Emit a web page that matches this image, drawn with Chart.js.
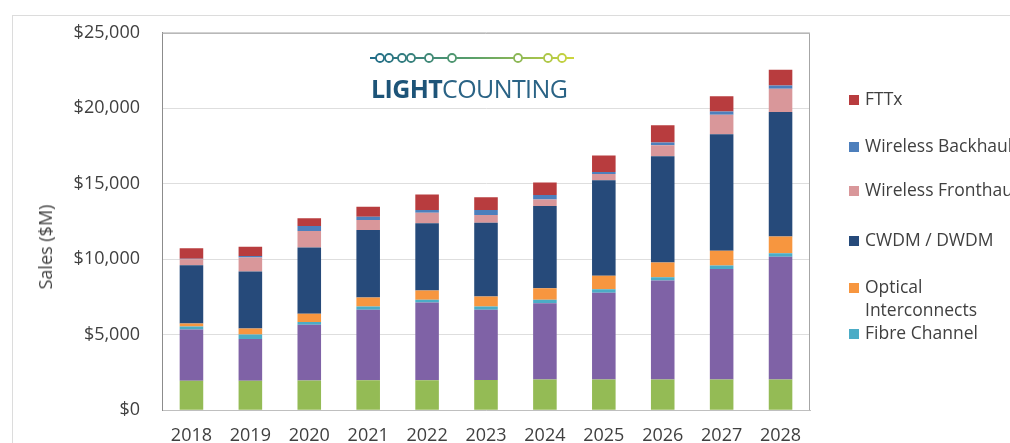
<!DOCTYPE html>
<html>
<head>
<meta charset="utf-8">
<script src="https://cdn.jsdelivr.net/npm/chart.js@4"></script>
<style>
  html, body { margin: 0; padding: 0; background: #fff; }
  #wrap { position: relative; width: 1010px; height: 443px; overflow: hidden; font-family: "Open Sans", sans-serif; }
  #frame { position: absolute; left: 12px; top: 15px; width: 1100px; height: 500px; border: 1px solid #dcdcdc; }
  #salesChart { position: absolute; left: 0; top: 0; }
  #yTitle { position: absolute; left: 45px; top: 247px; transform: translate(-50%, -50%) rotate(-90deg);
            font-size: 18px; color: #404040; white-space: nowrap; }
  #legend { position: absolute; left: 849px; top: 0; width: 200px; font-size: 17.5px; color: #404040; }
  .lg { position: absolute; left: 0; white-space: nowrap; line-height: 23px; }
  .lg i { display: inline-block; width: 10px; height: 10px; margin-right: 6px; vertical-align: 0px; }
  .lg span.indent { padding-left: 16px; }
  #logo { position: absolute; left: 368px; top: 49px; width: 210px; }
  #logoText { font-size: 25px; letter-spacing: -0.6px; color: #2a6385; line-height: 28px; margin-top: 2px; padding-left: 3px; }
  #logoText b { font-weight: 700; color: #1d5478; }
</style>
</head>
<body>
<div id="wrap">
  <div id="frame"></div>
  <canvas id="salesChart" width="1010" height="443"></canvas>
  <div id="yTitle">Sales ($M)</div>
  <div id="logo">
    <svg width="210" height="18" viewBox="0 0 210 18">
      <defs>
        <linearGradient id="lgGrad" gradientUnits="userSpaceOnUse" x1="0" y1="9" x2="210" y2="9">
          <stop offset="0" stop-color="#1e6a8a"/>
          <stop offset="0.5" stop-color="#5aa06a"/>
          <stop offset="1" stop-color="#d2d83a"/>
        </linearGradient>
      </defs>
      <line x1="2" y1="9" x2="206" y2="9" stroke="url(#lgGrad)" stroke-width="1.8"/>
      <g fill="#fff" stroke="url(#lgGrad)" stroke-width="1.8">
        <circle cx="12" cy="9" r="4"/><circle cx="21" cy="9" r="4"/>
        <circle cx="34" cy="9" r="4"/><circle cx="43" cy="9" r="4"/>
        <circle cx="61" cy="9" r="4"/><circle cx="84" cy="9" r="4"/>
        <circle cx="150" cy="9" r="4"/><circle cx="180" cy="9" r="4"/>
        <circle cx="194" cy="9" r="4"/>
      </g>
    </svg>
    <div id="logoText"><b>LIGHT</b>COUNTING</div>
  </div>
  <div id="legend"></div>
</div>
<script>
// Optical transceiver sales by segment, $M
const years = ["2018", "2019", "2020", "2021", "2022", "2023", "2024", "2025", "2026", "2027", "2028"];

// bottom two segments: their legend entries are cut off in the source
const otherSales     = [1950, 1950, 1960, 1980, 1980, 2000, 2030, 2030, 2030, 2030, 2030];
const ethernetSales  = [3400, 2770, 3700, 4670, 5150, 4650, 5060, 5750, 6560, 7330, 8140];

const fibreChannel         = [200, 290, 180, 220, 180, 220, 220, 230, 220, 220, 230];
const opticalInterconnects = [200, 400, 550, 590, 620, 660, 770, 900, 970, 990, 1100];
const cwdmDwdm             = [3850, 3770, 4380, 4480, 4450, 4890, 5440, 6320, 7040, 7710, 8250];
const wirelessFronthaul    = [400, 930, 1100, 660, 700, 510, 440, 420, 730, 1290, 1540];
const wirelessBackhaul     = [30, 110, 330, 210, 180, 330, 290, 130, 180, 220, 220];
const fttx                 = [700, 610, 510, 660, 1030, 850, 830, 1100, 1140, 1010, 1050];

const yTicks = [0, 5000, 10000, 15000, 20000, 25000];

// ── Series (bottom to top) ───────────────────────────────
const series = [
  { label: "Other",                 data: otherSales,           color: "#94bb55", legend: false },
  { label: "Ethernet",              data: ethernetSales,        color: "#7f62a6", legend: false },
  { label: "Fibre Channel",         data: fibreChannel,         color: "#4bacc6", legend: true },
  { label: "Optical Interconnects", data: opticalInterconnects, color: "#f7963f", legend: true },
  { label: "CWDM / DWDM",           data: cwdmDwdm,             color: "#264a7a", legend: true },
  { label: "Wireless Fronthaul",    data: wirelessFronthaul,    color: "#d9979a", legend: true },
  { label: "Wireless Backhaul",     data: wirelessBackhaul,     color: "#4d7fbc", legend: true },
  { label: "FTTx",                  data: fttx,                 color: "#b83c3e", legend: true }
];

// ── HTML legend (right side, cropped like the source) ────
const legendEl = document.getElementById("legend");
const legendTops = { "FTTx": 87, "Wireless Backhaul": 134, "Wireless Fronthaul": 178,
                     "CWDM / DWDM": 228, "Optical Interconnects": 275, "Fibre Channel": 321 };
series.filter(s => s.legend).forEach(s => {
  const row = document.createElement("div");
  row.className = "lg";
  row.style.top = legendTops[s.label] + "px";
  if (s.label === "Optical Interconnects") {
    row.innerHTML = '<i style="background:' + s.color + '"></i>Optical<br><span class="indent">Interconnects</span>';
  } else {
    row.innerHTML = '<i style="background:' + s.color + '"></i>' + s.label;
  }
  legendEl.appendChild(row);
});

// outline of the plot box (top and right edges)
const plotBox = {
  id: "plotBox",
  afterDraw(chart) {
    const { ctx, chartArea: a } = chart;
    ctx.save();
    ctx.strokeStyle = "#a6a6a6";
    ctx.lineWidth = 1;
    ctx.beginPath();
    ctx.moveTo(a.left, a.top + 0.5);
    ctx.lineTo(a.right - 0.5, a.top + 0.5);
    ctx.lineTo(a.right - 0.5, a.bottom);
    ctx.stroke();
    ctx.restore();
  }
};

const tickFont = { family: "'Open Sans', sans-serif", size: 18 };

new Chart(document.getElementById("salesChart").getContext("2d"), {
  type: "bar",
  data: {
    labels: years,
    datasets: series.map(s => ({
      label:           s.label,
      data:            s.data,
      backgroundColor: s.color,
      borderWidth:     0,
      categoryPercentage: 1.0,
      barPercentage:   0.4
    }))
  },
  options: {
    responsive: false,
    animation:  false,
    layout: { padding: { top: 30, right: 200, left: 0, bottom: 0 } },
    plugins: {
      legend:  { display: false },
      tooltip: { enabled: false }
    },
    scales: {
      x: {
        stacked: true,
        grid:   { display: false, drawTicks: false },
        border: { color: "#bfbfbf" },
        ticks:  { color: "#404040", font: tickFont, padding: 15, maxRotation: 0 },
        afterFit(scale) { scale.height = 32; }
      },
      y: {
        stacked: true,
        min: 0,
        max: 25000,
        afterBuildTicks(scale) { scale.ticks = yTicks.map(v => ({ value: v })); },
        grid:   { color: "#dedede", drawTicks: false },
        border: { color: "#8c8c8c" },
        ticks:  {
          color: "#404040",
          font: tickFont,
          padding: 22,
          callback: v => "$" + Number(v).toLocaleString("en-US")
        },
        afterFit(scale) { scale.width = 162; }
      }
    }
  },
  plugins: [plotBox]
});
</script>
</body>
</html>
